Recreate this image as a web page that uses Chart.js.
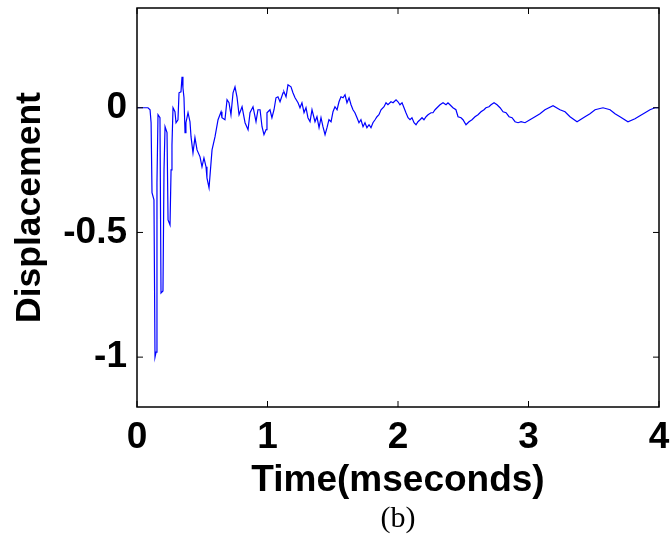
<!DOCTYPE html>
<html>
<head>
<meta charset="UTF-8">
<style>
  body { margin: 0; background: #fff; }
  #wrap { width: 672px; height: 549px; }
</style>
</head>
<body>
<div id="wrap"><canvas id="myChart" width="672" height="549"></canvas></div>
<script src="https://cdn.jsdelivr.net/npm/chart.js"></script>
<script>
// time in mseconds
var timeMs = [0, 0.084, 0.100, 0.108, 0.115, 0.130, 0.138, 0.146, 0.153, 0.161, 0.176, 0.184, 0.199, 0.207, 0.215, 0.230, 0.238, 0.253, 0.261, 0.268,
  0.276, 0.291, 0.299, 0.314, 0.322, 0.337, 0.345, 0.352, 0.360, 0.368, 0.375, 0.391, 0.406, 0.414, 0.429, 0.444, 0.460, 0.483, 0.498, 0.513,
  0.529, 0.536, 0.552, 0.575, 0.598, 0.621, 0.644, 0.651, 0.674, 0.690, 0.705, 0.720, 0.736, 0.751, 0.766, 0.782, 0.805, 0.828, 0.851, 0.866,
  0.889, 0.912, 0.927, 0.943, 0.958, 0.973, 0.989, 0.996, 1.019, 1.034, 1.050, 1.065, 1.080, 1.096, 1.119, 1.126, 1.142, 1.157, 1.180, 1.195,
  1.211, 1.234, 1.249, 1.264, 1.280, 1.295, 1.310, 1.326, 1.341, 1.364, 1.379, 1.395, 1.410, 1.425, 1.441, 1.456, 1.471, 1.487, 1.502, 1.517,
  1.533, 1.548, 1.563, 1.579, 1.594, 1.609, 1.625, 1.640, 1.655, 1.670, 1.686, 1.701, 1.716, 1.732, 1.747, 1.762, 1.778, 1.793, 1.808, 1.824,
  1.839, 1.854, 1.870, 1.893, 1.908, 1.923, 1.946, 1.962, 1.985, 2.000, 2.015, 2.031, 2.046, 2.061, 2.077, 2.092, 2.107, 2.123, 2.138, 2.153,
  2.169, 2.184, 2.199, 2.215, 2.230, 2.253, 2.268, 2.284, 2.299, 2.322, 2.345, 2.368, 2.383, 2.398, 2.421, 2.444, 2.460, 2.483, 2.498, 2.521,
  2.544, 2.567, 2.590, 2.613, 2.636, 2.659, 2.674, 2.697, 2.713, 2.736, 2.759, 2.782, 2.805, 2.828, 2.851, 2.874, 2.897, 2.920, 2.943, 2.973,
  3.011, 3.050, 3.088, 3.126, 3.188, 3.241, 3.280, 3.318, 3.372, 3.433, 3.471, 3.510, 3.571, 3.625, 3.663, 3.701, 3.762, 3.816, 3.854, 3.893,
  3.931, 3.969, 4.000];

var displacement = [0, 0, -0.008, -0.06, -0.341, -0.369, -1.000, -0.980, -0.301, -0.028, -0.040, -0.743, -0.735, -0.250, -0.076, -0.100, -0.450, -0.470, -0.249, -0.149,
  0.000, -0.016, -0.060, -0.048, 0.060, 0.064, 0.124, 0.080, 0.040, -0.100, -0.060, -0.020, -0.056, -0.116, -0.181, -0.120, -0.169, -0.197, -0.237, -0.201,
  -0.237, -0.281, -0.321, -0.169, -0.116, -0.048, -0.016, -0.040, -0.048, 0.032, 0.020, -0.028, 0.060, 0.084, 0.044, -0.028, 0.004, -0.060, -0.088, -0.020,
  0.004, -0.056, -0.008, -0.008, -0.076, -0.108, -0.088, -0.020, -0.008, -0.040, -0.008, 0.040, 0.044, 0.024, 0.060, 0.064, 0.044, 0.092, 0.084, 0.060,
  0.040, 0.020, 0.000, 0.020, -0.020, 0.000, -0.040, -0.056, -0.008, -0.056, -0.036, -0.080, -0.040, -0.076, -0.108, -0.080, -0.048, -0.056, -0.016, 0.004,
  -0.008, 0.024, 0.044, 0.040, 0.052, 0.020, 0.040, 0.012, -0.008, -0.020, -0.040, -0.060, -0.048, -0.076, -0.060, -0.080, -0.068, -0.080, -0.060, -0.048,
  -0.036, -0.028, -0.008, 0.004, 0.020, 0.012, 0.024, 0.020, 0.032, 0.024, 0.012, 0.020, 0.000, -0.020, -0.040, -0.048, -0.040, -0.060, -0.068, -0.056,
  -0.048, -0.040, -0.048, -0.036, -0.028, -0.020, -0.020, -0.008, 0.000, 0.012, 0.020, 0.012, 0.020, 0.012, 0.000, -0.008, -0.036, -0.040, -0.048, -0.068,
  -0.056, -0.048, -0.036, -0.028, -0.016, -0.008, 0.000, 0.004, 0.012, 0.020, 0.012, 0.000, -0.016, -0.020, -0.036, -0.040, -0.056, -0.060, -0.056, -0.060,
  -0.048, -0.036, -0.024, -0.008, 0.008, -0.008, -0.016, -0.036, -0.056, -0.036, -0.024, -0.008, 0.000, -0.008, -0.024, -0.036, -0.056, -0.044, -0.032, -0.020,
  -0.008, 0.000, 0.000];

var xTicks = [0, 1, 2, 3, 4];
var yTicks = [-1, -0.5, 0];
var xTitle = 'Time(mseconds)';
var yTitle = 'Displacement';
var caption = '(b)';

var points = [];
for (var i = 0; i < timeMs.length; i++) {
  points.push({ x: timeMs[i], y: displacement[i] });
}

var fam = "'Liberation Sans', Arial, sans-serif";
var tickFont = { family: fam, size: 37, weight: 'bold', lineHeight: 1 };
var xTitleFont = { family: fam, size: 37, weight: 'bold', lineHeight: 1 };
var yTitleFont = { family: fam, size: 35.5, weight: 'bold', lineHeight: 1 };

// matlab style box with inward ticks, plus the caption
var boxPlugin = {
  id: 'boxPlugin',
  afterDraw: function (chart) {
    var ctx = chart.ctx, a = chart.chartArea;
    var xs = chart.scales.x, ys = chart.scales.y;
    var len = 6;
    ctx.save();
    ctx.strokeStyle = '#000';
    ctx.lineWidth = 1.5;
    ctx.strokeRect(a.left, a.top, a.right - a.left, a.bottom - a.top);
    ctx.lineWidth = 1;
    ctx.beginPath();
    xTicks.forEach(function (v) {
      var px = xs.getPixelForValue(v);
      ctx.moveTo(px, a.bottom); ctx.lineTo(px, a.bottom - len);
      ctx.moveTo(px, a.top); ctx.lineTo(px, a.top + len);
    });
    yTicks.forEach(function (v) {
      var py = ys.getPixelForValue(v);
      ctx.moveTo(a.left, py); ctx.lineTo(a.left + len, py);
      ctx.moveTo(a.right, py); ctx.lineTo(a.right - len, py);
    });
    ctx.stroke();
    ctx.fillStyle = '#000';
    ctx.font = "30px 'Liberation Serif', 'Times New Roman', serif";
    ctx.textAlign = 'center';
    ctx.textBaseline = 'middle';
    ctx.fillText(caption, (a.left + a.right) / 2, 519);
    ctx.restore();
  }
};

new Chart(document.getElementById('myChart'), {
  type: 'line',
  data: {
    datasets: [{
      data: points,
      borderColor: '#0000ff',
      borderWidth: 1.2,
      pointRadius: 0,
      tension: 0,
      fill: false
    }]
  },
  options: {
    responsive: false,
    animation: false,
    devicePixelRatio: 1,
    layout: { padding: { left: 0, right: 13, top: 8, bottom: 0 } },
    plugins: { legend: { display: false }, tooltip: { enabled: false } },
    scales: {
      x: {
        type: 'linear',
        min: 0, max: 4,
        afterBuildTicks: function (s) { s.ticks = xTicks.map(function (v) { return { value: v }; }); },
        afterFit: function (s) { s.height = 142; s.paddingLeft = 0; s.paddingRight = 0; },
        grid: { display: false, drawTicks: false },
        border: { display: false },
        ticks: { color: '#000', font: tickFont, padding: 12, maxRotation: 0, autoSkip: false,
          callback: function (v) { return String(v); } },
        title: { display: true, text: xTitle, color: '#000', font: xTitleFont, padding: { top: 0, bottom: 50 } }
      },
      y: {
        type: 'linear',
        min: -1.2, max: 0.4,
        afterBuildTicks: function (s) { s.ticks = yTicks.map(function (v) { return { value: v }; }); },
        afterFit: function (s) { s.width = 137; s.paddingTop = 0; s.paddingBottom = 0; },
        grid: { display: false, drawTicks: false },
        border: { display: false },
        ticks: { color: '#000', font: tickFont, padding: 10,
          callback: function (v) { return String(v); } },
        title: { display: true, text: yTitle, color: '#000', font: yTitleFont, padding: { top: 12, bottom: 0 } }
      }
    }
  },
  plugins: [boxPlugin]
});
</script>
</body>
</html>
